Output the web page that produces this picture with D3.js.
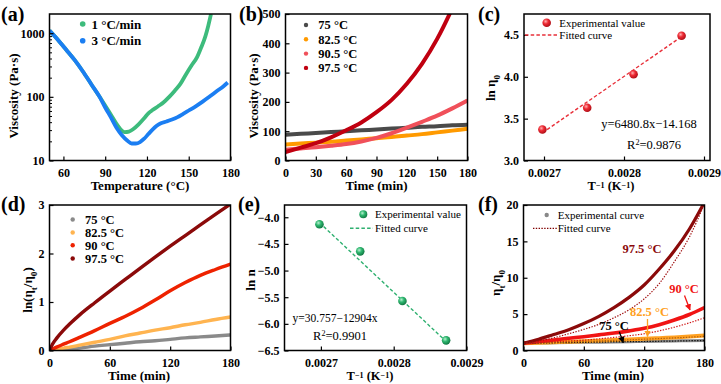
<!DOCTYPE html>
<html><head><meta charset="utf-8">
<script src="https://cdn.jsdelivr.net/npm/d3@7"></script>
<style>
body{margin:0;background:#fff}
svg{display:block}
text{font-family:"Liberation Serif","Times New Roman",serif}
</style>
</head><body>
<svg id="chart" width="721" height="384"></svg>
<script>
// ---------- DATA ----------
// (a) viscosity vs temperature
const aTempSlow = [50,56,62,68,74,80,86,90,94,98,101,104,107,110,114,118,121,124,128,132,136,140,144,148,152,156,159,162,164,166];
const aViscSlow = [1100,790,550,380,250,158,100,73,53,38,31,28,28.5,31,37,46,55,62,71,82,100,125,160,225,310,420,600,900,1300,2000];
const aTempFast = [50,56,62,68,74,80,86,90,94,98,102,106,109,112,115,118,121,124,127,130,134,138,142,146,150,155,160,165,170,175,178];
const aViscFast = [1100,790,550,380,250,158,100,68,48,33,25,20.5,18.5,18.5,19.5,22,26,30.5,35,38.5,41,44,48,54,61,71,84,101,122,147,168];
const aLegend = ["1 \u00B0C/min","3 \u00B0C/min"];
const aXTicks = [60,90,120,150,180];
const aYTicks = [10,100,1000];

// (b) viscosity vs time, isothermal
const bTime = [0,15,30,45,60,75,90,105,120,135,150,165,180];
const bVisc75  = [88,91,94,97,100,103,106,109,112,115,117,120,122];
const bVisc825 = [55,58,61,64,68,72,76,80,85,90,96,102,108];
const bVisc905 = [37,41,45,50,56,65,77,93,112,132,153,178,205];
const bVisc975 = [29,44,59,79,103,130,165,207,262,330,415,520,640];
const bLegend = ["75 \u00B0C","82.5 \u00B0C","90.5 \u00B0C","97.5 \u00B0C"];
const bXTicks = [0,30,60,90,120,150,180];
const bYTicks = [0,100,200,300,400,500];

// (c) ln eta0 vs 1/T
const cInvT = [0.002698,0.002754,0.002812,0.002872];
const cLnEta0 = [3.37,3.63,4.03,4.49];
const cFitX = [0.002698,0.002872];
const cFitY = [3.33,4.48];
const cXTicks = [0.0027,0.0028,0.0029];
const cYTicks = [3.0,3.5,4.0,4.5];

// (d) ln(eta_t/eta_0) vs time
const dTime = [0,3,7,14,20,30,45,60,75,90,105,120,135,150,165,180];
const dLn75  = [0,0,0.005,0.02,0.03,0.05,0.09,0.12,0.15,0.18,0.2,0.23,0.26,0.28,0.3,0.32];
const dLn825 = [0,0.01,0.02,0.05,0.07,0.11,0.17,0.23,0.3,0.36,0.42,0.47,0.53,0.58,0.64,0.69];
const dLn90  = [0,0.03,0.07,0.13,0.18,0.27,0.41,0.56,0.7,0.86,1.04,1.23,1.4,1.55,1.67,1.78];
const dLn975 = [0,0.13,0.25,0.42,0.545,0.735,0.985,1.225,1.46,1.695,1.925,2.15,2.37,2.59,2.805,3.02];
const dLegend = ["75 \u00B0C","82.5 \u00B0C","90 \u00B0C","97.5 \u00B0C"];
const dXTicks = [0,60,120,180];
const dYTicks = [0,1,2,3];

// (e) ln n vs 1/T
const eInvT = [0.002698,0.002754,0.002812,0.002872];
const eLnN = [-4.13,-4.64,-5.57,-6.31];
const eFitX = [0.002698,0.002872];
const eFitY = [-4.10,-6.33];
const eXTicks = [0.0027,0.0028,0.0029];
const eYTicks = [-4.0,-4.5,-5.0,-5.5,-6.0,-6.5];

// (f) eta_t/eta_0 vs time, experimental and fitted
const fTime = [0,15,30,45,60,75,90,105,120,135,150,165,180];
const f975Exp = [1,1.55,2.2,2.85,3.7,4.7,5.9,7.3,9.0,11.2,13.7,16.7,20.4];
const f975Fit = [1,1.3,1.75,2.3,2.9,3.6,4.5,5.6,7.1,9.2,12.2,15.6,20.2];
const f90Exp  = [1,1.2,1.45,1.68,1.9,2.15,2.4,2.7,3.05,3.55,4.2,4.95,5.9];
const f90Fit  = [1,1.1,1.2,1.3,1.42,1.6,1.8,2.03,2.3,2.7,3.2,3.8,4.5];
const f825Exp = [1,1.07,1.13,1.2,1.27,1.35,1.43,1.51,1.6,1.7,1.8,1.92,2.05];
const f825Fit = [1,1.06,1.12,1.18,1.25,1.32,1.39,1.47,1.55,1.64,1.73,1.83,1.95];
const f75Exp  = [1,1.03,1.06,1.09,1.12,1.15,1.18,1.21,1.25,1.28,1.31,1.35,1.38];
const f75Fit  = [1,1.03,1.06,1.09,1.12,1.15,1.18,1.21,1.24,1.27,1.3,1.34,1.37];
const fLabels = ["97.5 \u00B0C","90 \u00B0C","82.5 \u00B0C","75 \u00B0C"];
const fXTicks = [0,60,120,180];
const fYTicks = [0,5,10,15,20];

// ---------- DRAWING ----------
const svg = d3.select("#chart");
const defs = svg.append("defs");
const FONT = '"Liberation Serif","Times New Roman",serif';

function sphere(id, hi, mid, lo){
  const g = defs.append("radialGradient").attr("id",id).attr("cx","38%").attr("cy","35%").attr("r","65%");
  g.append("stop").attr("offset","0%").attr("stop-color",hi);
  g.append("stop").attr("offset","45%").attr("stop-color",mid);
  g.append("stop").attr("offset","100%").attr("stop-color",lo);
}
sphere("sphRed","#ffb0b0","#ee2a34","#b01018");
sphere("sphGreen","#b8f0d0","#2fb870","#127a44");

function arrowMarker(id,color){
  defs.append("marker").attr("id",id).attr("viewBox","0 0 10 10").attr("refX",9).attr("refY",5)
    .attr("markerWidth",5).attr("markerHeight",5).attr("orient","auto-start-reverse")
    .append("path").attr("d","M0,0L10,5L0,10z").attr("fill",color);
}
arrowMarker("arRed","#f01414");
arrowMarker("arOrange","#ffa020");
arrowMarker("arBlack","#000");

function panel(id, box, xs, ys, xTicks, yTicks, xFmt, yFmt, yMinor){
  const g = svg.append("g");
  defs.append("clipPath").attr("id","clip"+id).append("rect")
    .attr("x",box.l).attr("y",box.t).attr("width",box.r-box.l).attr("height",box.b-box.t);
  const plot = g.append("g").attr("clip-path",`url(#clip${id})`);
  const axX = g.append("g").attr("transform",`translate(0,${box.b})`)
    .call(d3.axisBottom(xs).tickValues(xTicks).tickFormat(xFmt).tickSizeInner(-4).tickSizeOuter(0).tickPadding(7.5));
  const axY = g.append("g").attr("transform",`translate(${box.l},0)`)
    .call(d3.axisLeft(ys).tickValues(yTicks).tickFormat(yFmt).tickSizeInner(-4).tickSizeOuter(0).tickPadding(5));
  if (yMinor){
    const m = g.append("g").attr("transform",`translate(${box.l},0)`)
      .call(d3.axisLeft(ys).tickValues(yMinor).tickFormat("").tickSizeInner(-2.5).tickSizeOuter(0));
    m.select(".domain").remove();
    m.selectAll("text").remove();
    m.selectAll("line").attr("stroke","#000").attr("stroke-width",1);
  }
  [axX,axY].forEach(a=>{
    a.select(".domain").remove();
    a.selectAll("line").attr("stroke","#000").attr("stroke-width",1.2);
    a.selectAll("text").attr("font-family",FONT).attr("font-size",12).attr("font-weight","bold").attr("fill","#000");
  });
  return {g, plot, frame(){
    g.append("rect").attr("x",box.l).attr("y",box.t).attr("width",box.r-box.l).attr("height",box.b-box.t)
      .attr("fill","none").attr("stroke","#000").attr("stroke-width",1.5);
  }};
}

function txt(x,y,s,opt={}){
  return svg.append("text").attr("x",x).attr("y",y).attr("font-family",FONT)
    .attr("font-size",opt.size||12).attr("font-weight",opt.bold?"bold":"normal")
    .attr("fill",opt.color||"#000").attr("text-anchor",opt.anchor||"start").text(s);
}
function addParts(t,parts,supShift){
  parts.forEach(p=>{
    if (typeof p === "string") t.append("tspan").text(p);
    else if (p.sub) t.append("tspan").attr("baseline-shift","sub").attr("font-size","70%").text(p.sub);
    else if (p.sup) t.append("tspan").attr("baseline-shift",supShift||"30%").attr("font-size","65%").text(p.sup);
  });
}
function rotTitle(x,y,parts,size){
  const t = svg.append("text").attr("transform",`translate(${x},${y}) rotate(-90)`)
    .attr("font-family",FONT).attr("font-size",size||13).attr("font-weight","bold")
    .attr("text-anchor","middle").attr("dy","0.35em");
  addParts(t,parts);
  return t;
}
function xTitle(x,y,parts,size){
  const t = svg.append("text").attr("x",x).attr("y",y).attr("font-family",FONT)
    .attr("font-size",size||13).attr("font-weight","bold").attr("text-anchor","middle");
  addParts(t,parts);
}
function panelLabel(x,y,s){ txt(x,y,s,{size:20,bold:true}); }

const zip = (xs,ys)=>xs.map((x,i)=>[x,ys[i]]);

// ===== (a) =====
{
  const box={l:49.5,r:230.5,t:14,b:160.5};
  const x=d3.scaleLinear().domain([50,180]).range([box.l,box.r]);
  const y=d3.scaleLog().domain([10,2000]).range([box.b,box.t]);
  const minor=[20,30,40,50,60,70,80,90,200,300,400,500,600,700,800,900];
  const P=panel("a",box,x,y,aXTicks,aYTicks,d3.format("d"),d3.format("d"),minor);
  const line=d3.line().x(d=>x(d[0])).y(d=>y(d[1])).curve(d3.curveMonotoneX);
  P.plot.append("path").attr("d",line(zip(aTempSlow,aViscSlow))).attr("fill","none").attr("stroke","#3dbb7c").attr("stroke-width",3.8);
  P.plot.append("path").attr("d",line(zip(aTempFast,aViscFast))).attr("fill","none").attr("stroke","#1b7ef2").attr("stroke-width",3.8);
  P.frame();
  [["#3dbb7c",24],["#1b7ef2",40.7]].forEach((c,i)=>{
    svg.append("circle").attr("cx",82.7).attr("cy",c[1]).attr("r",2.8).attr("fill",c[0]);
    txt(91.5,c[1]+4.5,aLegend[i],{size:13,bold:true});
  });
  rotTitle(13,96,["Viscosity (Pa\u00B7s)"]);
  xTitle(140,190,["Temperature (\u00B0C)"]);
  panelLabel(1,21,"(a)");
}

// ===== (b) =====
{
  const box={l:285.5,r:467.5,t:14,b:160.5};
  const x=d3.scaleLinear().domain([0,180]).range([box.l,box.r]);
  const y=d3.scaleLinear().domain([0,500]).range([box.b,box.t]);
  const P=panel("b",box,x,y,bXTicks,bYTicks,d3.format("d"),d3.format("d"));
  const line=d3.line().x(d=>x(d[0])).y(d=>y(d[1])).curve(d3.curveMonotoneX);
  const cols=["#4a4a4a","#ff9a00","#f0505a","#c00010"];
  [bVisc75,bVisc825,bVisc905,bVisc975].forEach((s,i)=>{
    P.plot.append("path").attr("d",line(zip(bTime,s))).attr("fill","none").attr("stroke",cols[i]).attr("stroke-width",4);
  });
  P.frame();
  [25,39.3,53.6,67.9].forEach((yy,i)=>{
    svg.append("circle").attr("cx",306).attr("cy",yy).attr("r",2.2).attr("fill",cols[i]);
    txt(318.3,yy+4.3,bLegend[i],{size:12.5,bold:true});
  });
  rotTitle(253.5,96,["Viscosity (Pa\u00B7s)"]);
  xTitle(376.5,190,["Time (min)"]);
  panelLabel(239,21,"(b)");
}

// ===== (c) =====
{
  const box={l:524,r:710,t:14,b:160.5};
  const x=d3.scaleLinear().domain([0.002675,0.0029075]).range([box.l,box.r]);
  const y=d3.scaleLinear().domain([3.0,4.75]).range([box.b,box.t]);
  const P=panel("c",box,x,y,cXTicks,cYTicks,d3.format(".4f"),d3.format(".1f"));
  const line=d3.line().x(d=>x(d[0])).y(d=>y(d[1]));
  P.plot.append("path").attr("d",line(zip(cFitX,cFitY))).attr("fill","none").attr("stroke","#e8303a").attr("stroke-width",1.4).attr("stroke-dasharray","3.5,2.2");
  P.plot.selectAll("circle.pt").data(zip(cInvT,cLnEta0)).enter().append("circle")
    .attr("cx",d=>x(d[0])).attr("cy",d=>y(d[1])).attr("r",4.3).attr("fill","url(#sphRed)");
  P.frame();
  svg.append("circle").attr("cx",546.7).attr("cy",22.7).attr("r",4.3).attr("fill","url(#sphRed)");
  txt(559.3,26.5,"Experimental value",{size:11});
  svg.append("line").attr("x1",525).attr("x2",558).attr("y1",35).attr("y2",35).attr("stroke","#e8303a").attr("stroke-width",1.4).attr("stroke-dasharray","3.5,2.2");
  txt(559.3,39,"Fitted curve",{size:11});
  txt(649,128,"y=6480.8x\u221214.168",{size:12.5,anchor:"middle"});
  const r=svg.append("text").attr("x",654).attr("y",149).attr("font-family",FONT).attr("font-size",12.5).attr("text-anchor","middle");
  addParts(r,["R",{sup:"2"},"=0.9876"],"50%");
  rotTitle(490,88,["ln \u03B7",{sub:"0"}]);
  xTitle(611,190,["T",{sup:"\u22121"}," (K",{sup:"\u22121"},")"],12.5);
  panelLabel(478,21,"(c)");
}

// ===== (d) =====
{
  const box={l:49.5,r:230.5,t:205,b:350.5};
  const x=d3.scaleLinear().domain([0,180]).range([box.l,box.r]);
  const y=d3.scaleLinear().domain([0,3]).range([box.b,box.t]);
  const P=panel("d",box,x,y,dXTicks,dYTicks,d3.format("d"),d3.format("d"));
  const line=d3.line().x(d=>x(d[0])).y(d=>y(d[1])).curve(d3.curveMonotoneX);
  const cols=["#8a8a8a","#ffb450","#ee2200","#8b0a0a"];
  [dLn75,dLn825,dLn90,dLn975].forEach((s,i)=>{
    P.plot.append("path").attr("d",line(zip(dTime,s))).attr("fill","none").attr("stroke",cols[i]).attr("stroke-width",3.4);
  });
  P.frame();
  [219.5,232.5,245.3,258.5].forEach((yy,i)=>{
    svg.append("circle").attr("cx",72.7).attr("cy",yy).attr("r",2.2).attr("fill",cols[i]);
    txt(85,yy+4.3,dLegend[i],{size:12.5,bold:true});
  });
  rotTitle(27,290,["ln(\u03B7",{sub:"t"},"/\u03B7",{sub:"0"},")"]);
  xTitle(139,380,["Time (min)"]);
  panelLabel(1,211,"(d)");
}

// ===== (e) =====
{
  const box={l:284.5,r:466.5,t:205,b:350.5};
  const x=d3.scaleLinear().domain([0.00265,0.0029]).range([box.l,box.r]);
  const y=d3.scaleLinear().domain([-6.5,-3.77]).range([box.b,box.t]);
  const P=panel("e",box,x,y,eXTicks,eYTicks,d3.format(".4f"),d3.format(".1f"));
  const line=d3.line().x(d=>x(d[0])).y(d=>y(d[1]));
  P.plot.append("path").attr("d",line(zip(eFitX,eFitY))).attr("fill","none").attr("stroke","#2fb070").attr("stroke-width",1.4).attr("stroke-dasharray","3.5,2.2");
  P.plot.selectAll("circle.pt").data(zip(eInvT,eLnN)).enter().append("circle")
    .attr("cx",d=>x(d[0])).attr("cy",d=>y(d[1])).attr("r",4.3).attr("fill","url(#sphGreen)");
  P.frame();
  svg.append("circle").attr("cx",363.3).attr("cy",214.3).attr("r",4).attr("fill","url(#sphGreen)");
  txt(375,218.3,"Experimental value",{size:11});
  svg.append("line").attr("x1",350).attr("x2",373).attr("y1",228.3).attr("y2",228.3).attr("stroke","#2fb070").attr("stroke-width",1.4).attr("stroke-dasharray","3.5,2.2");
  txt(375,232.3,"Fitted curve",{size:11});
  txt(335,322,"y=30.757\u221212904x",{size:11.5,anchor:"middle"});
  const r=svg.append("text").attr("x",340).attr("y",340).attr("font-family",FONT).attr("font-size",12.5).attr("text-anchor","middle");
  addParts(r,["R",{sup:"2"},"=0.9901"],"50%");
  rotTitle(250,280,["ln n"]);
  xTitle(370,380,["T",{sup:"\u22121"}," (K",{sup:"\u22121"},")"],12.5);
  panelLabel(238,211,"(e)");
}

// ===== (f) =====
{
  const box={l:523.5,r:704.5,t:205,b:350.5};
  const x=d3.scaleLinear().domain([0,180]).range([box.l,box.r]);
  const y=d3.scaleLinear().domain([0,20]).range([box.b,box.t]);
  const P=panel("f",box,x,y,fXTicks,fYTicks,d3.format("d"),d3.format("d"));
  const line=d3.line().x(d=>x(d[0])).y(d=>y(d[1])).curve(d3.curveMonotoneX);
  const exp=[[f75Exp,"#888888",3],[f825Exp,"#ffa020",4],[f90Exp,"#f01414",3.6],[f975Exp,"#8b0a0a",3.2]];
  exp.forEach(e=>P.plot.append("path").attr("d",line(zip(fTime,e[0]))).attr("fill","none").attr("stroke",e[1]).attr("stroke-width",e[2]));
  const fit=[[f75Fit,"#111"],[f825Fit,"#b06010"],[f90Fit,"#d01818"],[f975Fit,"#a01010"]];
  fit.forEach(e=>P.plot.append("path").attr("d",line(zip(fTime,e[0]))).attr("fill","none").attr("stroke",e[1]).attr("stroke-width",1.2).attr("stroke-dasharray","1.4,1.4"));
  P.frame();
  svg.append("circle").attr("cx",546.7).attr("cy",215).attr("r",2.2).attr("fill","#888");
  txt(557.7,219,"Experimental curve",{size:11});
  svg.append("line").attr("x1",533).attr("x2",557).attr("y1",228.3).attr("y2",228.3).attr("stroke","#800000").attr("stroke-width",1.2).attr("stroke-dasharray","1.4,1.4");
  txt(557.7,232.3,"Fitted curve",{size:11});
  txt(642,253,fLabels[0],{size:12.5,bold:true,color:"#8b0a0a",anchor:"middle"});
  txt(684,293.3,fLabels[1],{size:12.5,bold:true,color:"#f01414",anchor:"middle"});
  txt(649.5,316,fLabels[2],{size:12.5,bold:true,color:"#ffa020",anchor:"middle"});
  txt(614,330,fLabels[3],{size:12.5,bold:true,color:"#000",anchor:"middle"});
  svg.append("line").attr("x1",684.5).attr("y1",295.5).attr("x2",690).attr("y2",310).attr("stroke","#f01414").attr("stroke-width",1.3).attr("marker-end","url(#arRed)");
  svg.append("line").attr("x1",647.5).attr("y1",319).attr("x2",647.5).attr("y2",336.5).attr("stroke","#ffa020").attr("stroke-width",1.3).attr("marker-end","url(#arOrange)");
  svg.append("line").attr("x1",619.3).attr("y1",331.7).attr("x2",623.3).attr("y2",342.7).attr("stroke","#000").attr("stroke-width",1.3).attr("marker-end","url(#arBlack)");
  rotTitle(495,283,["\u03B7",{sub:"t"},"/\u03B7",{sub:"0"}]);
  xTitle(613,380,["Time (min)"]);
  panelLabel(478,211,"(f)");
}
</script>
</body></html>
